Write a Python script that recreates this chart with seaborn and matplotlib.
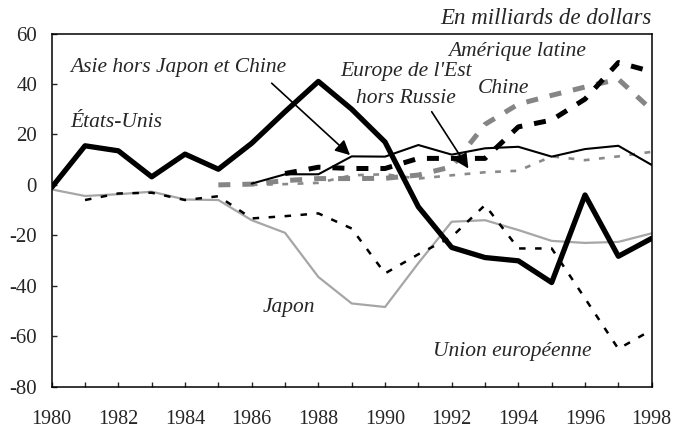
import numpy as np
import pandas as pd
import matplotlib
matplotlib.use("Agg")
import matplotlib.pyplot as plt
import seaborn as sns

# values (milliards de dollars)
years_us = list(range(1980, 1999))
etats_unis = [-1, 15.5, 13.5, 3.2, 12.2, 6.2, 16.5, 29, 41, 30, 17, -8.7, -24.8, -28.8, -30.1, -38.7, -4, -28.3, -21.2]

years_asie = list(range(1986, 1999))
asie = [0.5, 4.2, 4.2, 11.3, 11.2, 15.8, 12, 14.5, 15.1, 11.2, 14.2, 15.5, 7.9]

years_amlat = list(range(1987, 1999))
amerique_latine = [4.5, 7, 6.5, 6.5, 10.5, 10.5, 10.5, 23, 25.7, 34, 48.5, 44.9]

years_chine = list(range(1985, 1999))
chine = [0, 0.3, 1.7, 2.5, 2.5, 2.6, 3.9, 7.2, 24, 32, 35.5, 38.8, 41.9, 29.7]

years_est = list(range(1986, 1999))
europe_est = [0, 0.3, 0.8, 3.8, 4.2, 2.5, 3.8, 5, 5.6, 11.3, 9.8, 11.3, 13.1]

years_ue = list(range(1981, 1999))
union_europeenne = [-6, -3.4, -3.1, -6, -4.5, -13.3, -12.4, -11.3, -17.3, -35.1, -27.5, -20.6, -8, -25.2, -25.2, -45, -65, -57.5]

years_jp = list(range(1980, 1999))
japon = [-1.8, -4.4, -3.7, -2.7, -5.8, -6, -14, -19, -36.5, -47, -48.4, -31, -14.6, -14, -17.9, -22.2, -23, -22.6, -19.2]

sns.set_style("ticks")
plt.rcParams['font.family'] = ['Liberation Serif', 'DejaVu Serif']
plt.rcParams['axes.unicode_minus'] = False

fig = plt.figure(figsize=(6.74, 4.33), dpi=100)
ax = fig.add_axes([0.0767, 0.1069, 0.8902, 0.8157])

# draw lines (back to front)
sns.lineplot(x=years_jp, y=japon, ax=ax, color='#a6a6a6', lw=1.6)
sns.lineplot(x=years_ue, y=union_europeenne, ax=ax, color='black', lw=1.8,
             linestyle=(0, (2.6, 3.8)))
sns.lineplot(x=years_est, y=europe_est, ax=ax, color='#8a8a8a', lw=1.9,
             linestyle=(0, (2.2, 3.6)))
sns.lineplot(x=years_chine, y=chine, ax=ax, color='#858585', lw=3.6,
             linestyle=(0, (2.4, 2.4)))
sns.lineplot(x=years_amlat, y=amerique_latine, ax=ax, color='black', lw=3.6,
             linestyle=(0, (2.4, 2.4)))
sns.lineplot(x=years_asie, y=asie, ax=ax, color='black', lw=1.5)
sns.lineplot(x=years_us, y=etats_unis, ax=ax, color='black', lw=3.8)

ax.set_xlim(1980, 1998)
ax.set_ylim(-80, 60)
ax.set_xticks(range(1980, 1999))
ax.set_xticklabels([str(y) if y % 2 == 0 else '' for y in range(1980, 1999)])
ax.set_yticks(range(-80, 61, 20))
ax.tick_params(axis='x', direction='in', length=3.6, width=1, pad=16.5, labelsize=14.5)
ax.tick_params(axis='y', direction='in', length=3.6, width=1, pad=10.5, labelsize=15)
for s in ax.spines.values():
    s.set_linewidth(1.1)
    s.set_color('black')
ax.set_xlabel('')
ax.set_ylabel('')

lab = dict(fontsize=15.5, style='italic', va='center')
ax.text(1980.55, 46.7, 'Asie hors Japon et Chine', ha='left', **lab)
ax.text(1980.55, 24.9, 'États-Unis', ha='left', **lab)
ax.text(1990.63, 44.8, "Europe de l'Est", ha='center', **lab)
ax.text(1990.63, 34.4, 'hors Russie', ha='center', **lab)
ax.text(1991.9, 52.8, 'Amérique latine', ha='left', **lab)
ax.text(1992.79, 38.4, 'Chine', ha='left', **lab)
ax.text(1986.34, -48.5, 'Japon', ha='left', **lab)
ax.text(1991.44, -66.2, 'Union européenne', ha='left', **lab)

arrow = dict(arrowstyle='-|>', color='black', lw=1.2, mutation_scale=22,
             shrinkA=0, shrinkB=0)
ax.annotate('', xy=(1988.95, 11.8), xytext=(1986.6, 40.3), arrowprops=arrow)
ax.annotate('', xy=(1992.5, 6.5), xytext=(1991.4, 29), arrowprops=arrow)

fig.text(0.967, 0.958, 'En milliards de dollars', ha='right', va='center',
         fontsize=16.5, style='italic')

fig.savefig('out.png', dpi=100)
